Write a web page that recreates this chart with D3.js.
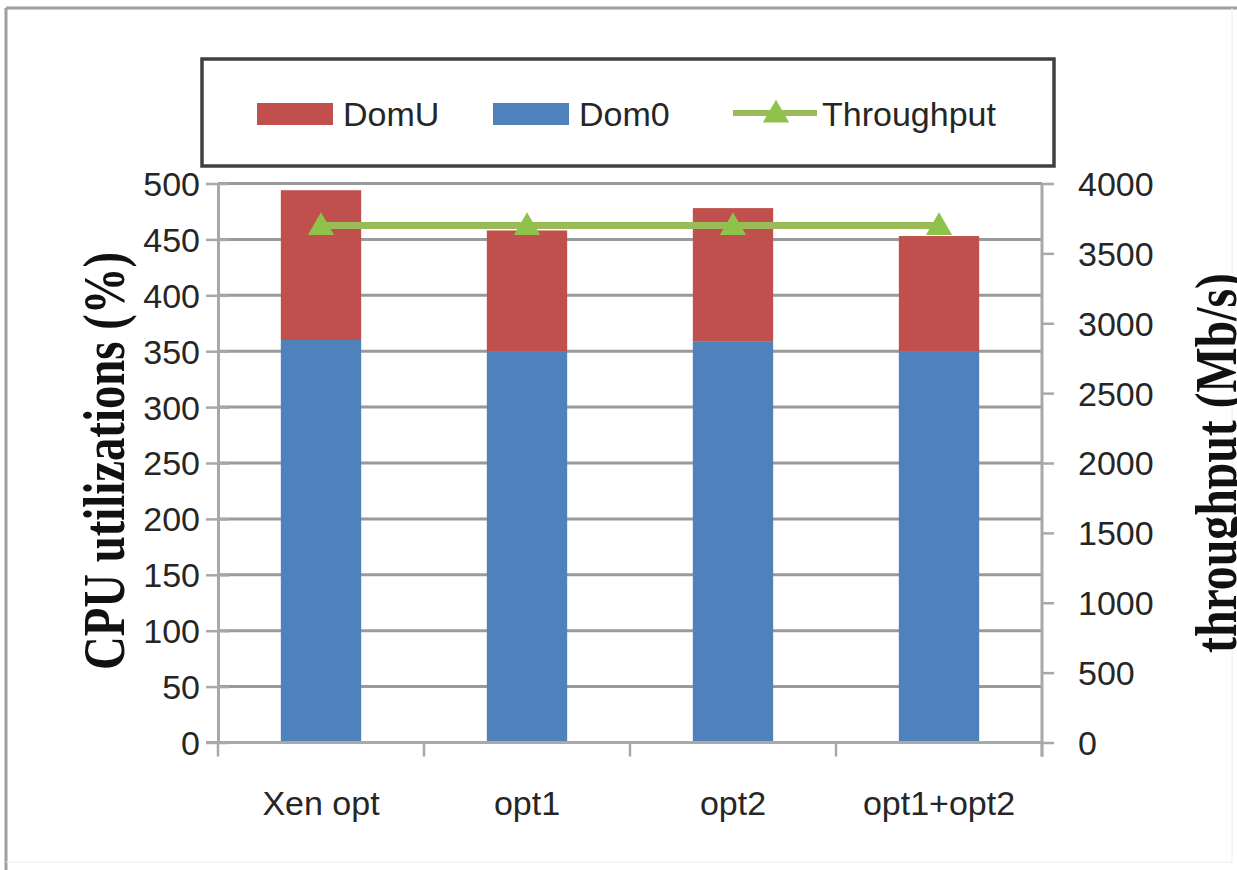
<!DOCTYPE html>
<html>
<head>
<meta charset="utf-8">
<script src="https://cdn.jsdelivr.net/npm/d3@7/dist/d3.min.js"></script>
<style>
  html, body { margin: 0; padding: 0; background: #fff; }
  svg { display: block; }
  .tick-label { font-family: "Liberation Sans", Arial, sans-serif; font-size: 34px; fill: #262626; }
  .axis-title { font-family: "Liberation Serif", "Times New Roman", serif; font-weight: bold; font-size: 60px; fill: #111; }
</style>
</head>
<body>
<svg id="chart" width="1237" height="870"></svg>
<script>
// Configurations and measurements
const categories = ["Xen opt", "opt1", "opt2", "opt1+opt2"];
const dom0 = [360, 350, 359, 350];
const domU = [134, 108, 119, 103];
const throughput = [3700, 3700, 3700, 3700];
const cpuTicks = [0, 50, 100, 150, 200, 250, 300, 350, 400, 450, 500];
const tputTicks = [0, 500, 1000, 1500, 2000, 2500, 3000, 3500, 4000];

const colors = { domU: "#C0504D", dom0: "#4F81BD", tput: "#9BBB59", grid: "#9a9a9a", axis: "#a8a8a8" };

const svg = d3.select("#chart");

// outer frame
svg.append("line").attr("x1", 6).attr("x2", 1237).attr("y1", 8).attr("y2", 8)
  .attr("stroke", "#a0a0a0").attr("stroke-width", 3);
svg.append("line").attr("x1", 6).attr("x2", 6).attr("y1", 8).attr("y2", 870)
  .attr("stroke", "#a0a0a0").attr("stroke-width", 3);
svg.append("line").attr("x1", 1232).attr("x2", 1232).attr("y1", 8).attr("y2", 862)
  .attr("stroke", "#ececec").attr("stroke-width", 1);
svg.append("line").attr("x1", 6).attr("x2", 1232).attr("y1", 862).attr("y2", 862)
  .attr("stroke", "#ececec").attr("stroke-width", 1);

const plot = { left: 218, right: 1042, top: 183.5, bottom: 742.5 };

const x = d3.scaleBand().domain(categories).range([plot.left, plot.right]).paddingInner(0).paddingOuter(0);
const yL = d3.scaleLinear().domain([0, 500]).range([plot.bottom, plot.top]);
const yR = d3.scaleLinear().domain([0, 4000]).range([plot.bottom, plot.top]);
const barW = x.bandwidth() * 0.39;

// horizontal gridlines
svg.append("g").selectAll("line").data(cpuTicks.filter(d => d > 0)).join("line")
  .attr("x1", plot.left).attr("x2", plot.right)
  .attr("y1", d => yL(d)).attr("y2", d => yL(d))
  .attr("stroke", colors.grid).attr("stroke-width", 3);

// stacked bars
const stackData = categories.map((c, i) => ({ cat: c, dom0: dom0[i], domU: domU[i] }));
const series = d3.stack().keys(["dom0", "domU"])(stackData);
svg.append("g").selectAll("g").data(series).join("g")
  .attr("fill", s => colors[s.key])
  .selectAll("rect").data(s => s).join("rect")
  .attr("x", d => x(d.data.cat) + (x.bandwidth() - barW) / 2)
  .attr("width", barW)
  .attr("y", d => yL(d[1]))
  .attr("height", d => yL(d[0]) - yL(d[1]));

// left axis
const gL = svg.append("g").attr("transform", `translate(${plot.left},0)`)
  .call(d3.axisLeft(yL).tickValues(cpuTicks).tickSize(14).tickSizeOuter(0).tickPadding(4));
gL.select(".domain").attr("stroke", colors.axis).attr("stroke-width", 3);
gL.selectAll(".tick line").attr("stroke", colors.axis).attr("stroke-width", 2.5).attr("x2", -12).attr("x1", 11);
gL.selectAll(".tick text").attr("class", "tick-label").attr("dy", "0.35em");

// right axis
const gR = svg.append("g").attr("transform", `translate(${plot.right},0)`)
  .call(d3.axisRight(yR).tickValues(tputTicks).tickFormat(d3.format("d")).tickSize(12).tickSizeOuter(0).tickPadding(24));
gR.select(".domain").attr("stroke", colors.axis).attr("stroke-width", 3).attr("d", `M0,${plot.top}V${plot.bottom + 14}`);
gR.selectAll(".tick line").attr("stroke", colors.axis).attr("stroke-width", 2.5);
gR.selectAll(".tick text").attr("class", "tick-label").attr("dy", "0.35em");

// bottom axis
const gB = svg.append("g").attr("transform", `translate(0,${plot.bottom})`)
  .call(d3.axisBottom(x).tickSize(0).tickPadding(0));
gB.select(".domain").attr("stroke", colors.axis).attr("stroke-width", 3).attr("d", `M${plot.left - 12},0H${plot.right}`);
gB.selectAll(".tick text").attr("class", "tick-label").attr("y", 72).attr("dy", 0);
const bounds = categories.map(c => x(c)).concat([plot.right]);
gB.append("g").selectAll("line").data(bounds).join("line")
  .attr("x1", d => d).attr("x2", d => d).attr("y1", 0).attr("y2", 14)
  .attr("stroke", colors.axis).attr("stroke-width", 2.5);

// throughput line with triangle markers
const cx = c => x(c) + x.bandwidth() / 2;
const tri = d3.symbol().type(d3.symbolTriangle).size(300);
svg.append("path")
  .datum(categories.map((c, i) => [cx(c), yR(throughput[i])]))
  .attr("d", d3.line())
  .attr("fill", "none").attr("stroke", colors.tput).attr("stroke-width", 7);
svg.append("g").selectAll("path").data(categories).join("path")
  .attr("d", tri)
  .attr("transform", (c, i) => `translate(${cx(c)},${yR(throughput[i]) + 2})`)
  .attr("fill", "#8fc24a");

// axis titles
svg.append("text").attr("class", "axis-title")
  .attr("transform", `translate(124,${(plot.top + plot.bottom) / 2 - 2}) rotate(-90)`)
  .attr("text-anchor", "middle").attr("textLength", 418).attr("lengthAdjust", "spacingAndGlyphs")
  .text("CPU utilizations (%)");
svg.append("text").attr("class", "axis-title")
  .attr("transform", `translate(1236,${(plot.top + plot.bottom) / 2}) rotate(-90)`)
  .attr("text-anchor", "middle").attr("textLength", 380).attr("lengthAdjust", "spacingAndGlyphs")
  .text("throughput (Mb/s)");

// legend
const legend = svg.append("g");
legend.append("rect").attr("x", 202).attr("y", 59).attr("width", 852).attr("height", 107)
  .attr("fill", "#fff").attr("stroke", "#404040").attr("stroke-width", 3.5);
const legendItems = [
  { label: "DomU", kind: "rect", color: colors.domU, x: 257 },
  { label: "Dom0", kind: "rect", color: colors.dom0, x: 493 },
  { label: "Throughput", kind: "line", color: colors.tput, x: 733 }
];
const li = legend.selectAll("g.item").data(legendItems).join("g").attr("class", "item")
  .attr("transform", d => `translate(${d.x},0)`);
li.filter(d => d.kind === "rect").append("rect")
  .attr("x", 0).attr("y", 103).attr("width", 76).attr("height", 22).attr("fill", d => d.color);
li.filter(d => d.kind === "line").append("line")
  .attr("x1", 0).attr("x2", 84).attr("y1", 113).attr("y2", 113)
  .attr("stroke", d => d.color).attr("stroke-width", 6);
li.filter(d => d.kind === "line").append("path")
  .attr("d", tri).attr("transform", "translate(43,115)").attr("fill", "#8fc24a");
li.append("text").attr("class", "tick-label")
  .attr("x", d => d.kind === "rect" ? 86 : 89).attr("y", 126)
  .text(d => d.label);
</script>
</body>
</html>
